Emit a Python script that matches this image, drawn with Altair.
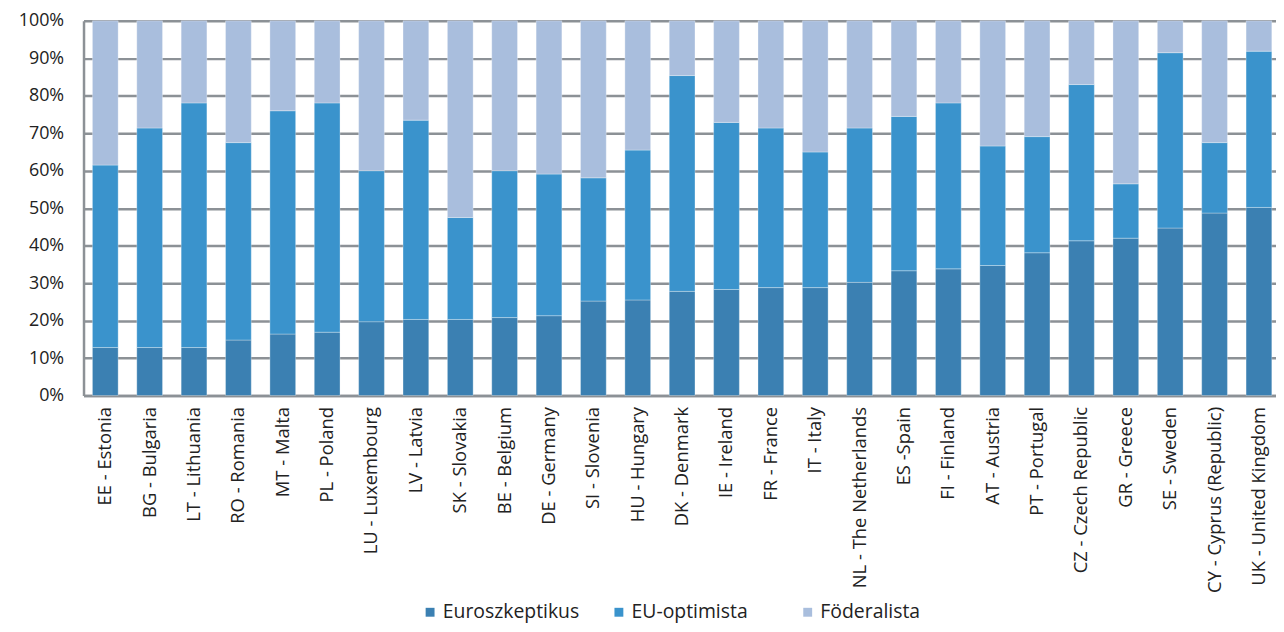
import altair as alt
import pandas as pd

countries = ["EE - Estonia", "BG - Bulgaria", "LT - Lithuania", "RO - Romania", "MT - Malta",
             "PL - Poland", "LU - Luxembourg", "LV - Latvia", "SK - Slovakia", "BE - Belgium",
             "DE - Germany", "SI - Slovenia", "HU - Hungary", "DK - Denmark", "IE - Ireland",
             "FR - France", "IT - Italy", "NL - The Netherlands", "ES -Spain", "FI - Finland",
             "AT - Austria", "PT - Portugal", "CZ - Czech Republic", "GR - Greece", "SE - Sweden",
             "CY - Cyprus (Republic)", "UK - United Kingdom"]

euroszkeptikus = [12.8, 12.8, 12.8, 14.8, 16.4, 16.9, 19.7, 20.3, 20.3, 20.8, 21.3, 25.2, 25.5,
                  27.8, 28.3, 28.8, 28.8, 30.2, 33.3, 33.8, 34.7, 38.1, 41.3, 42.0, 44.7, 48.7, 50.2]
eu_optimista = [48.7, 58.6, 65.3, 52.7, 59.6, 61.2, 40.3, 53.2, 27.2, 39.2, 37.8, 32.9, 40.0,
                57.6, 44.6, 42.6, 36.2, 41.2, 41.2, 44.3, 31.9, 31.0, 41.7, 14.5, 46.8, 18.8, 41.7]
foderalista = [38.5, 28.6, 21.9, 32.5, 24.0, 21.9, 40.0, 26.5, 52.5, 40.0, 40.9, 41.9, 34.5,
               14.6, 27.1, 28.6, 35.0, 28.6, 25.5, 21.9, 33.4, 30.9, 17.0, 43.5, 8.5, 32.5, 8.1]

series = ["Euroszkeptikus", "EU-optimista", "Föderalista"]
colors = ["#3b80b2", "#3a93cc", "#a9bedd"]

rows = []
for i, c in enumerate(countries):
    for k, (name, vals) in enumerate(zip(series, [euroszkeptikus, eu_optimista, foderalista])):
        rows.append({"country": c, "series": name, "value": vals[i], "ord": k})
df = pd.DataFrame(rows)

FONT = "Open Sans"

chart = alt.Chart(df).mark_bar(stroke="#ffffff", strokeWidth=0.6, strokeOpacity=0.5).encode(
    x=alt.X("country:N", sort=countries, title=None,
            scale=alt.Scale(paddingInner=0.42, paddingOuter=0.1475, align=0.68),
            axis=alt.Axis(labelAngle=-90, labelFontSize=18.5, labelFont=FONT, labelColor="#222222",
                          labelPadding=11, ticks=False, domainColor="#8c9196", domainWidth=2.5,
                          labelLimit=300)),
    y=alt.Y("value:Q", stack="normalize", title=None,
            scale=alt.Scale(domain=[0, 1]),
            axis=alt.Axis(format=".0%", values=[i / 10 for i in range(11)], labelFontSize=18,
                          labelFont=FONT, labelColor="#222222", labelPadding=20, ticks=False,
                          domainColor="#8c9196", domainWidth=2.5, gridColor="#8c9196",
                          gridWidth=2.5, grid=True)),
    color=alt.Color("series:N", sort=series, title=None,
                    scale=alt.Scale(domain=series, range=colors),
                    legend=alt.Legend(orient="none", legendX=339, legendY=585, direction="horizontal",
                                      symbolType="square", symbolSize=80, symbolStrokeWidth=0,
                                      labelFontSize=19.5, labelFont=FONT, labelColor="#222222",
                                      columnPadding=30, labelOffset=3, padding=0, gridAlign="all")),
    order=alt.Order("ord:Q", sort="ascending"),
).properties(
    width=1200, height=377,
    autosize=alt.AutoSizeParams(type="none"),
    padding={"left": 76, "top": 11, "right": 0, "bottom": 228},
).configure_view(stroke=None)

chart.save("out.html", embed_options={"renderer": "svg", "actions": False})
